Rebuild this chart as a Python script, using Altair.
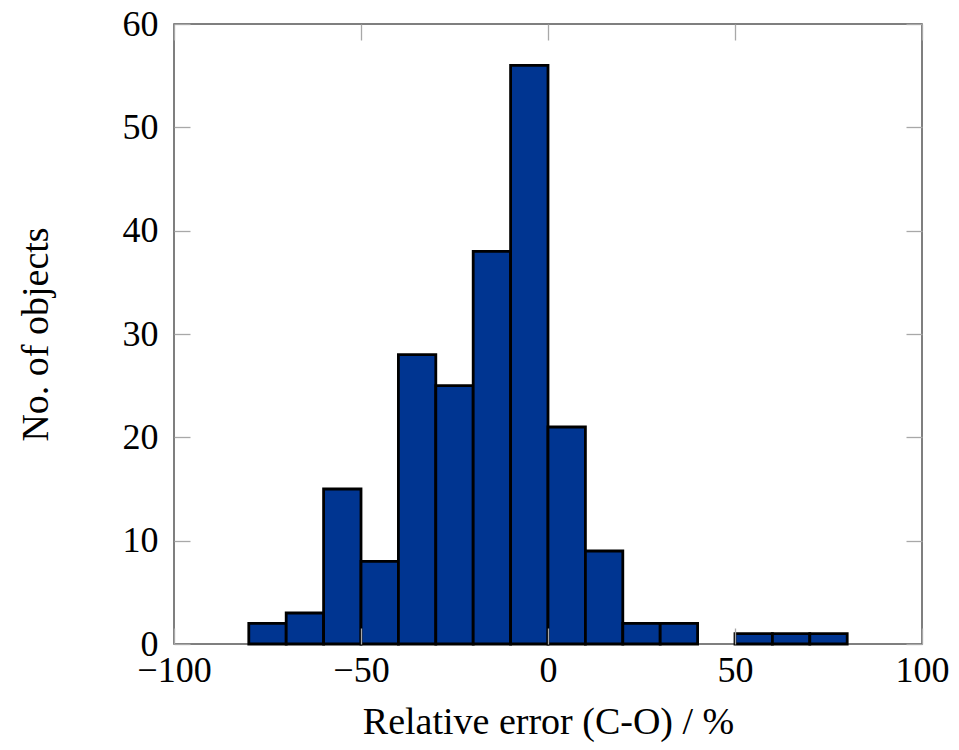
import altair as alt
import pandas as pd

# Data (bin width 10)
bin_start = [-80, -70, -60, -50, -40, -30, -20, -10, 0, 10, 20, 30, 50, 60, 70]
counts = [2, 3, 15, 8, 28, 25, 38, 56, 21, 9, 2, 2, 1, 1, 1]
bin_width = 10
x_ticks = [-100, -50, 0, 50, 100]
y_ticks = [0, 10, 20, 30, 40, 50, 60]

df = pd.DataFrame({
    "start": bin_start,
    "end": [s + bin_width for s in bin_start],
    "count": counts,
    "zero": [0] * len(bin_start),
})

FONT = "Liberation Serif"
LFS = 36
TFS = 38
TICK_LEN = 16
TICK_COLOR = "#a8a8a8"

xscale = alt.Scale(domain=[-100, 100], nice=False, zero=False)
yscale = alt.Scale(domain=[0, 60], nice=False)

bars = alt.Chart(df).mark_rect(
    fill="#003591", stroke="#000000", strokeWidth=2.8
).encode(
    x=alt.X("start:Q", scale=xscale,
            axis=alt.Axis(orient="bottom", values=x_ticks, ticks=False, domain=False,
                          grid=False, title="Relative error (C-O) / %", labelFlush=False,
                          labelFont=FONT, labelFontSize=LFS, labelColor="#000",
                          labelPadding=9, titleFont=FONT, titleFontSize=TFS,
                          titleFontWeight="normal", titleColor="#000", titlePadding=15)),
    x2="end:Q",
    y=alt.Y("count:Q", scale=yscale,
            axis=alt.Axis(orient="left", values=y_ticks, ticks=False, domain=False,
                          grid=False, title="No. of objects", labelFlush=False,
                          labelFont=FONT, labelFontSize=LFS, labelColor="#000",
                          labelPadding=16, titleFont=FONT, titleFontSize=TFS,
                          titleFontWeight="normal", titleColor="#000", titlePadding=67)),
    y2="zero:Q",
)

def tick_layer(xorient, yorient):
    return alt.Chart(df).mark_point(opacity=0).encode(
        x=alt.X("start:Q", scale=xscale,
                axis=alt.Axis(orient=xorient, values=x_ticks, labels=False, domain=False,
                              grid=False, title=None, ticks=True, tickSize=TICK_LEN,
                              tickColor=TICK_COLOR, tickWidth=1.3, offset=-TICK_LEN,
                              zindex=1)),
        y=alt.Y("count:Q", scale=yscale,
                axis=alt.Axis(orient=yorient, values=y_ticks, labels=False, domain=False,
                              grid=False, title=None, ticks=True, tickSize=TICK_LEN,
                              tickColor=TICK_COLOR, tickWidth=1.3, offset=-TICK_LEN,
                              zindex=1)),
    )

chart = alt.layer(
    bars,
    tick_layer("bottom", "left"),
    tick_layer("top", "right"),
).resolve_axis(
    x="independent", y="independent"
).properties(
    width=748, height=620,
    autosize=alt.AutoSizeParams(type="none"),
    padding={"left": 166, "top": 16, "right": 29, "bottom": 104},
).configure_view(
    stroke="#555555", strokeWidth=1.5
)

chart.save("out.html", embed_options={"renderer": "svg", "actions": False})
